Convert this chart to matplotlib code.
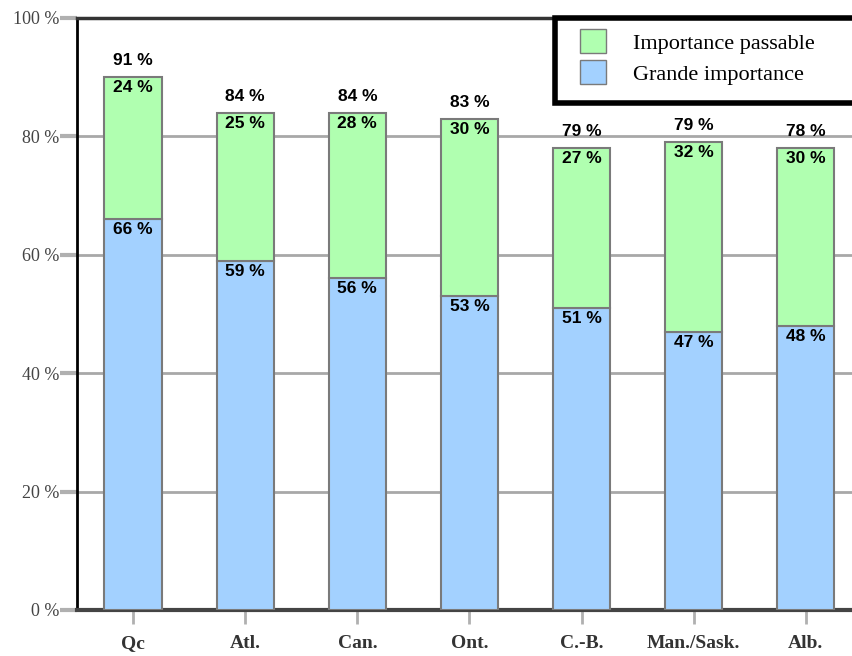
import numpy as np
import matplotlib.pyplot as plt
from matplotlib.patches import Patch, Rectangle

# Data
regions = ['Qc', 'Atl.', 'Can.', 'Ont.', 'C.-B.', 'Man./Sask.', 'Alb.']
grande = [66, 59, 56, 53, 51, 47, 48]
passable = [24, 25, 28, 30, 27, 32, 30]
totals = [91, 84, 84, 83, 79, 79, 78]
yticks = [0, 20, 40, 60, 80, 100]

blue = '#a3d1ff'
green = '#b0ffb0'
edge = '#7a7a7a'

fig = plt.figure(figsize=(8.53, 6.56), dpi=100)
ax = fig.add_axes([77 / 853, 46 / 656, 1 - 77 / 853, 592 / 656])

x = np.arange(len(regions))
w = 0.51
ax.bar(x, grande, width=w, color=blue, edgecolor=edge, linewidth=1.5, zorder=3)
ax.bar(x, passable, bottom=grande, width=w, color=green, edgecolor=edge,
       linewidth=1.5, zorder=3)

lab = dict(ha='center', fontsize=12.5, fontweight='bold',
           family='Liberation Sans', zorder=4)
for i in range(len(regions)):
    ax.text(x[i], grande[i] - 0.5, f'{grande[i]} %', va='top', **lab)
    ax.text(x[i], grande[i] + passable[i] - 0.5, f'{passable[i]} %',
            va='top', **lab)
    ax.text(x[i], grande[i] + passable[i] + 1.5, f'{totals[i]} %',
            va='bottom', **lab)

ax.set_xlim(-0.5, 6.42)
ax.set_ylim(0, 100)
ax.set_yticks(yticks)
ax.set_yticklabels([f'{v} %' for v in yticks], family='Liberation Serif',
                   fontsize=13, color='#444444')
ax.set_xticks(x)
ax.set_xticklabels(regions, family='Liberation Serif', fontsize=14,
                   fontweight='bold', color='#333333')
ax.tick_params(axis='y', length=12, width=3, color='#b0b0b0', pad=1)
ax.tick_params(axis='x', length=10, width=2, color='#b0b0b0', pad=8,
               direction='out')
ax.yaxis.grid(True, color='#a8a8a8', linewidth=2, zorder=0)

ax.spines['right'].set_visible(False)
ax.spines['left'].set_linewidth(2)
ax.spines['left'].set_color('black')
ax.spines['top'].set_linewidth(2.5)
ax.spines['top'].set_color('#333333')
ax.spines['bottom'].set_linewidth(3)
ax.spines['bottom'].set_color('#444444')

# legend box running off the right edge, as in the original
fig.patches.append(Rectangle((555 / 853, 1 - 103 / 656), 320 / 853, 85 / 656,
                             transform=fig.transFigure, facecolor='white',
                             edgecolor='black', linewidth=4, zorder=9))
handles = [Patch(facecolor=green, edgecolor=edge, label='Importance passable'),
           Patch(facecolor=blue, edgecolor=edge, label='Grande importance')]
leg = fig.legend(handles=handles, loc='upper left',
                 bbox_to_anchor=(580 / 853, 1 - 29 / 656),
                 prop={'family': 'Liberation Serif', 'size': 16},
                 frameon=False, borderpad=0, borderaxespad=0,
                 handlelength=1.17, handleheight=1.3, handletextpad=1.2,
                 labelspacing=0.3)
leg.set_zorder(10)

fig.savefig('out.png', dpi=100)
